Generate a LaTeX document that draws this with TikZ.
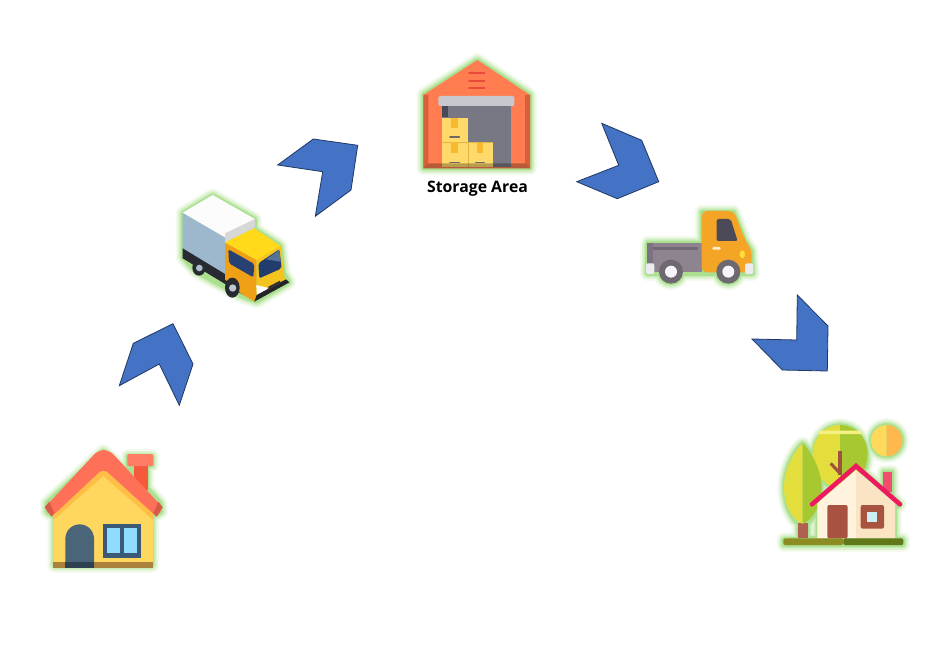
\documentclass[tikz,border=0pt]{standalone}
\usepackage{fontspec}
\setmainfont{Open Sans}
\definecolor{chevfill}{HTML}{4472C4}
\definecolor{chevline}{HTML}{1F3864}
\definecolor{glowa}{HTML}{F3FAEE}
\definecolor{glowb}{HTML}{E0F4D5}
\definecolor{glowc}{HTML}{C9ECB7}
\definecolor{glowd}{HTML}{ABE091}
\tikzset{
  chevron/.style={fill=chevfill,draw=chevline,line width=0.8pt,line join=miter},
  halo/.style={line join=round,line cap=round},
  lbl/.style={font=\bfseries\fontsize{15.8}{18}\selectfont,text=black,inner sep=0pt},
  rgbc/.style n args={3}{color={rgb,255:red,#1;green,#2;blue,#3}}
}
\newcommand{\glowpath}[1]{%
  \draw[halo,glowa,fill=glowa,line width=15pt] #1;
  \draw[halo,glowb,fill=glowb,line width=11.5pt] #1;
  \draw[halo,glowc,fill=glowc,line width=8pt] #1;
  \draw[halo,glowd,fill=glowd,line width=5pt] #1;
}
\begin{document}
\begin{tikzpicture}[x=1pt,y=-1pt]
\useasboundingbox (0,0) rectangle (936,658);
\fill[white] (0,0) rectangle (936,658);

% chevrons
\draw[chevron] (119.3,385.7)--(133.3,343.3)--(173,323.7)--(193,364)--(179.3,405.3)--(159.3,364)--cycle;
\draw[chevron] (277.7,165)--(313.3,139)--(357.7,145.3)--(351,190)--(315.3,216.3)--(322.7,171.7)--cycle;
\draw[chevron] (601.7,123.3)--(641.7,140.3)--(658.7,181.7)--(617.3,198.7)--(576.7,181.7)--(618.7,165.3)--cycle;
\draw[chevron] (797.3,295)--(828,326)--(827.3,371)--(782.3,370)--(752,339)--(796.7,340)--cycle;

% start house
\begin{scope}[shift={(20,300)},scale=1/3]
\glowpath{(250,455)--(325,520)--(325,470)--(395,470)--(395,495)--(380,495)--(380,565)--(420,610)--(422,635)--(395,650)--(395,795)--(105,795)--(105,650)--(82,635)--(82,610)--cycle}
\fill[rgbc={245}{90}{60}] (342,495) rectangle (385,570);
\fill[rounded corners=2pt,rgbc={255}{125}{100}] (322,462) rectangle (400,498);
\fill[rgbc={255}{215}{94}] (100,650)--(250,510)--(400,650)--(400,800)--(100,800)--cycle;
\fill[rgbc={255}{190}{70}] (100,660)--(100,640)--(250,505)--(400,640)--(400,660)--(250,528)--cycle;
\fill[rounded corners=6pt,rgbc={255}{112}{88}] (72,625)--(235,450)--(268,450)--(430,625)--(410,650)--(250,505)--(95,650)--cycle;
\fill[rgbc={215}{90}{70}] (74,622)--(88,605)--(103,640)--(95,650)--cycle;
\fill[rgbc={215}{90}{70}] (428,622)--(415,605)--(400,640)--(410,650)--cycle;
\fill[rgbc={170}{130}{60}] (100,785) rectangle (400,803);
\fill[rgbc={74}{100}{120}] (136,803)--(136,717) .. controls (136,692) and (155,673) .. (179,673) .. controls (203,673) and (222,692) .. (222,717)--(222,803)--cycle;
\fill[rgbc={45}{65}{80}] (136,785) rectangle (222,803);
\fill[rgbc={58}{90}{120}] (250,673) rectangle (363,773);
\fill[rgbc={143}{220}{255}] (262,685) rectangle (300,760);
\fill[rgbc={143}{220}{255}] (313,685) rectangle (352,760);
\end{scope}

% box truck
\begin{scope}[shift={(160,120)},scale=1/3]
\glowpath{(70,280)--(158,228)--(283,298)--(283,328)--(360,378)--(370,460)--(385,487)--(290,543)--(240,525)--(110,455)--(70,412)--cycle}
\fill[rgbc={157}{184}{204}] (68,278)--(195,352)--(195,470)--(68,385)--cycle;
\fill[rgbc={40}{42}{50}] (68,385)--(195,462)--(250,500)--(250,525)--(68,415)--cycle;
\fill[rgbc={252}{252}{252}] (68,278)--(158,225)--(285,297)--(195,352)--cycle;
\fill[rgbc={215}{215}{215}] (195,340)--(285,297)--(285,322)--(195,368)--cycle;
\fill[rgbc={240}{160}{20}] (195,367)--(290,420)--(290,525)--(285,545)--(245,522)--(195,478)--cycle;
\fill[rgbc={255}{217}{26}] (195,367)--(283,325)--(362,378)--(290,420)--cycle;
\fill[rgbc={245}{195}{30}] (290,420)--(362,378)--(375,482)--(290,530)--cycle;
\fill[rounded corners=2pt,rgbc={40}{65}{115}] (205,388)--(283,432)--(280,472)--(207,430)--cycle;
\fill[rounded corners=2pt,rgbc={35}{60}{110}] (295,430)--(358,388)--(365,445)--(298,475)--cycle;
\fill[rgbc={85}{115}{150}] (318,418)--(358,390)--(362,425)--cycle;
\fill[white] (289,495)--(322,503)--(322,512)--(291,530)--cycle;
\fill[rgbc={35}{35}{40}] (283,545)--(388,487)--(378,478)--(290,525)--cycle;
\fill[rgbc={50}{50}{55}] (325,500)--(360,482)--(360,492)--(325,510)--cycle;
\fill[rgbc={40}{42}{50}] (117,443) circle[x radius=20,y radius=24];
\fill[rgbc={170}{190}{205}] (118,444) circle[radius=10];
\fill[rgbc={40}{42}{50}] (217,503) circle[x radius=22,y radius=30];
\fill[rgbc={190}{200}{210}] (218,504) circle[radius=11];
\end{scope}

% warehouse
\begin{scope}[shift={(400,40)},scale=1/3]
\glowpath{(232,62)--(388,165)--(388,383)--(72,383)--(72,165)--cycle}
\fill[rgbc={255}{125}{80}] (232,60)--(390,165)--(390,385)--(70,385)--(70,165)--cycle;
\fill[rgbc={215}{95}{60}] (70,165)--(85,165)--(85,370)--(70,385)--cycle;
\fill[rgbc={215}{95}{60}] (390,165)--(375,165)--(375,370)--(390,385)--cycle;
\foreach \yy in {100,123,145}{\draw[line width=2pt,line cap=round,rgbc={232}{75}{55}] (207,\yy)--(253,\yy);}
\fill[rgbc={120}{120}{132}] (127,198) rectangle (332,380);
\fill[rgbc={70}{75}{90}] (127,198) rectangle (143,232);
\fill[rounded corners=2pt,rgbc={200}{200}{206}] (115,168) rectangle (343,198);
\fill[rgbc={255}{218}{107}] (127,233) rectangle (203,305);
\fill[rgbc={255}{218}{107}] (127,306) rectangle (203,380);
\fill[rgbc={255}{218}{107}] (204,308) rectangle (278,380);
\draw[line width=.5pt,rgbc={225}{180}{70}] (127,305.5)--(278,305.5) (203.5,306)--(203.5,380);
\fill[rgbc={248}{184}{48}] (153,233) rectangle (175,265);
\fill[rgbc={248}{184}{48}] (153,306) rectangle (175,338);
\fill[rgbc={248}{184}{48}] (230,308) rectangle (250,340);
\draw[line width=1.6pt,line cap=round,rgbc={110}{105}{100}] (150,291)--(178,291);
\draw[line width=1.6pt,line cap=round,rgbc={110}{105}{100}] (150,367)--(178,367);
\draw[line width=1.6pt,line cap=round,rgbc={110}{105}{100}] (227,367)--(253,367);
\fill[black,opacity=.28] (85,370)--(375,370)--(390,385)--(70,385)--cycle;
\end{scope}
\node[lbl] (storagelabel) at (477.5,189) {Storage Area};

% pickup truck
\begin{scope}[shift={(570,115)},scale=1/3]
\glowpath{(234,385)--(397,385)--(397,292)--(490,292)--(522,375)--(543,408)--(547,475)--(232,475)--cycle (303,470) circle[radius=33] (475,470) circle[radius=33]}
\fill[rgbc={142}{132}{144}] (232,383) rectangle (397,472);
\fill[rgbc={115}{105}{118}] (250,396) rectangle (385,405);
\fill[rgbc={125}{115}{128}] (232,383) rectangle (250,445);
\fill[rounded corners=5pt,rgbc={244}{165}{37}] (395,472)--(395,288)--(492,288)--(525,375)--(545,405)--(545,472)--cycle;
\fill[rounded corners=2pt,rgbc={76}{74}{88}] (440,312)--(482,312)--(503,378)--(440,378)--cycle;
\fill[rounded corners=1pt,rgbc={255}{240}{200}] (427,396) rectangle (452,404);
\fill[rgbc={255}{220}{60}] (517,418) circle[x radius=8,y radius=12];
\fill[rounded corners=2pt,rgbc={235}{235}{240}] (228,445) rectangle (253,477);
\fill[rounded corners=2pt,rgbc={235}{235}{240}] (525,445) rectangle (550,477);
\foreach \xx in {303,475}{
  \fill[rgbc={110}{104}{113}] (\xx,470) circle[radius=36];
  \fill[rgbc={245}{245}{250}] (\xx,470) circle[radius=18];
}
\end{scope}

% destination house
\begin{scope}[shift={(740,290)},scale=1/3]
\glowpath{(300,500) circle[x radius=80,y radius=93] (440,452) circle[radius=45]
  (188,462) .. controls (155,490) and (134,550) .. (134,590) .. controls (134,650) and (160,690) .. (177,700)--(177,745)--(201,745)--(201,700) .. controls (216,690) and (243,650) .. (243,590) .. controls (243,550) and (220,490) .. (188,462)--cycle
  (218,643)--(348,530)--(432,600)--(432,547)--(455,547)--(455,620)--(478,643)--(463,655)--(463,745)--(488,750)--(488,763)--(132,763)--(132,750)--(234,745)--(234,655)--cycle}
\fill[rgbc={228}{222}{60}] (300,405) .. controls (255,405) and (220,440) .. (218,490) .. controls (216,540) and (240,580) .. (300,600)--cycle;
\fill[rgbc={168}{200}{50}] (300,405) .. controls (345,405) and (382,440) .. (382,490) .. controls (382,540) and (360,580) .. (300,600)--cycle;
\fill[rgbc={245}{240}{130}] (233,432)--(367,432)--(360,422)--(240,422)--cycle;
\fill[rgbc={176}{96}{80}] (175,700) rectangle (203,745);
\fill[rgbc={228}{222}{60}] (188,460) .. controls (155,490) and (132,550) .. (132,590) .. controls (132,650) and (160,690) .. (188,702)--cycle;
\fill[rgbc={168}{200}{50}] (188,460) .. controls (220,490) and (245,550) .. (245,590) .. controls (245,650) and (216,690) .. (188,702)--cycle;
\draw[line width=4pt,rgbc={160}{82}{61}] (300,482)--(300,555);
\draw[line width=3pt,rgbc={160}{82}{61}] (272,520)--(298,548);
\fill[rgbc={255}{217}{90}] (440,405) .. controls (414,405) and (393,426) .. (393,452) .. controls (393,478) and (414,499) .. (440,499)--cycle;
\fill[rgbc={255}{184}{77}] (440,405) .. controls (466,405) and (487,426) .. (487,452) .. controls (487,478) and (466,499) .. (440,499)--cycle;
\fill[rgbc={240}{78}{108}] (430,545) rectangle (457,605);
\fill[rgbc={255}{243}{222}] (232,640)--(348,540)--(348,745)--(232,745)--cycle;
\fill[rgbc={251}{228}{195}] (348,540)--(465,640)--(465,745)--(348,745)--cycle;
\draw[line width=4.5pt,line cap=round,line join=miter,rgbc={240}{24}{94}] (216,643)--(348,528)--(480,643);
\fill[rounded corners=2pt,rgbc={168}{82}{64}] (262,745)--(262,645)--(323,645)--(323,745)--cycle;
\fill[rounded corners=2pt,rgbc={168}{82}{64}] (362,645) rectangle (432,716);
\fill[rgbc={205}{240}{245}] (380,665) rectangle (412,695);
\fill[rounded corners=2pt,rgbc={140}{140}{35}] (130,745) rectangle (310,765);
\fill[rounded corners=2pt,rgbc={95}{120}{25}] (310,745) rectangle (490,765);
\end{scope}
\end{tikzpicture}
\end{document}
